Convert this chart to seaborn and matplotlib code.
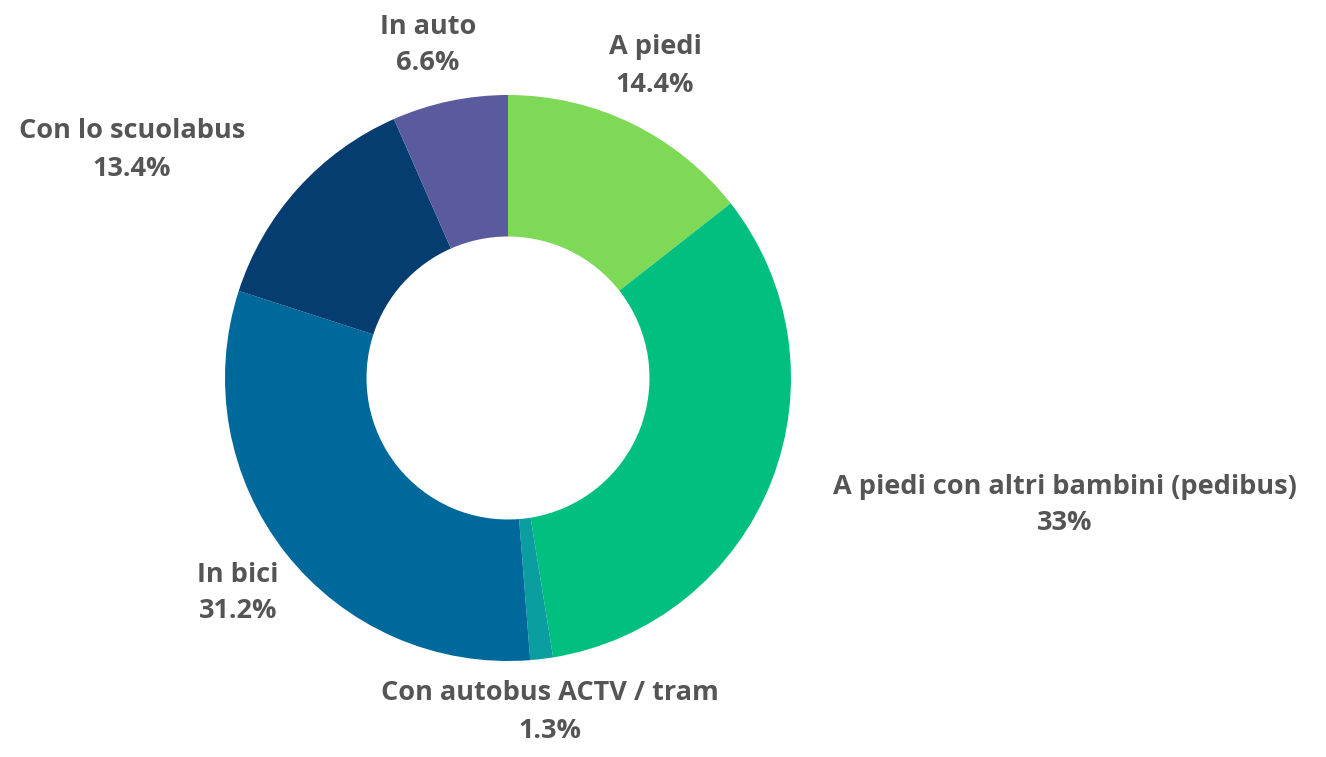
import numpy as np
import matplotlib
matplotlib.use("Agg")
import matplotlib.pyplot as plt
import seaborn as sns

categories = ["A piedi", "A piedi con altri bambini (pedibus)", "Con autobus ACTV / tram",
              "In bici", "Con lo scuolabus", "In auto"]
values = [14.4, 33, 1.3, 31.2, 13.4, 6.6]
value_labels = ["14.4%", "33%", "1.3%", "31.2%", "13.4%", "6.6%"]
colors = ["#7ED957", "#00BF7F", "#0A9EA0", "#00699B", "#063D70", "#5A5A9E"]

# label layout (pixel coordinates, y measured from top)
label_pos = [(655, 66), (1065, 505), (550, 712), (238, 593), (132, 150), (428, 45)]

sns.set_theme(style="white")
plt.rcParams['font.family'] = ['Open Sans', 'DejaVu Sans']

W, H = 1326, 757
fig = plt.figure(figsize=(W / 100, H / 100), dpi=100)
ax = fig.add_axes([0, 0, 1, 1])

cx, cy, R = 508, H - 378, 283
ax.pie(values, colors=colors, startangle=90, counterclock=False,
       center=(cx, cy), radius=R, frame=True,
       wedgeprops=dict(width=R * 0.5, linewidth=0))
ax.set_xlim(0, W)
ax.set_ylim(0, H)
ax.axis("off")

for cat, vl, (x, y) in zip(categories, value_labels, label_pos):
    ax.text(x, H - y, f"{cat}\n{vl}", ha="center", va="center", fontsize=19.5,
            fontweight="bold", color="#555555", linespacing=1.55)

fig.savefig("out.png", dpi=100)
